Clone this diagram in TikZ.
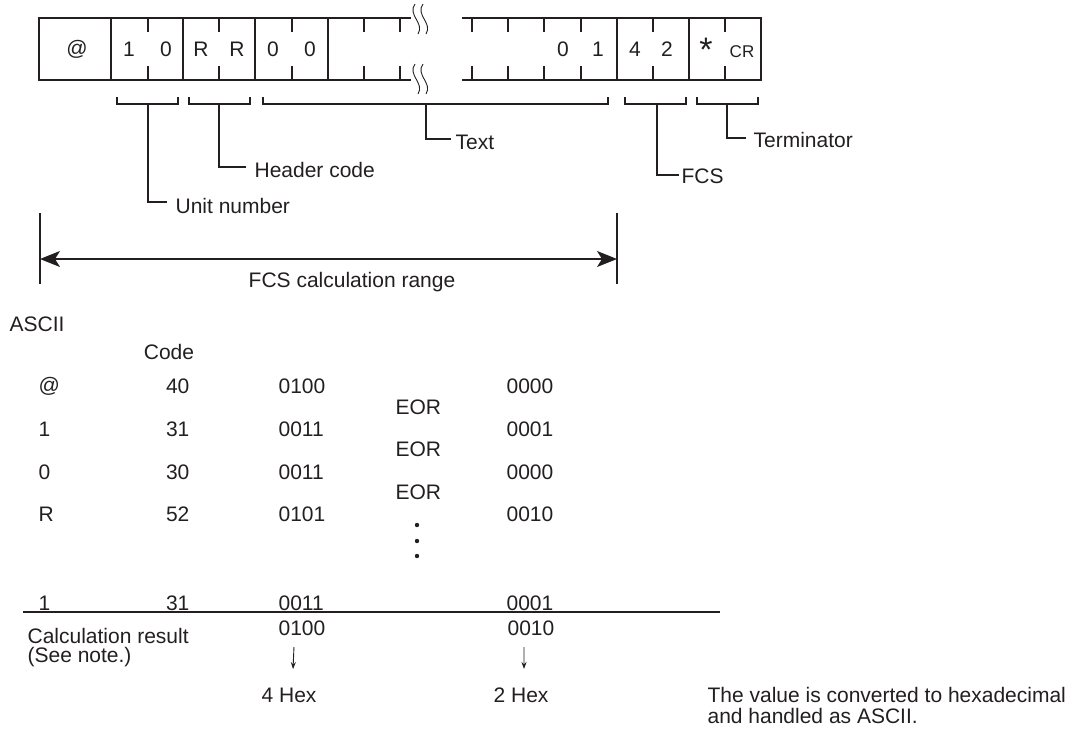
\documentclass[tikz,border=0pt]{standalone}
\usepackage{fontspec}
\setmainfont{Liberation Sans}
\usepackage{xcolor}
\usetikzlibrary{arrows.meta}
\definecolor{ink}{RGB}{35,31,32}

\begin{document}
\begin{tikzpicture}[x=1pt, y=-1pt, line width=1.2pt, draw=ink,
    txt/.style={font=\fontsize{21}{19}\selectfont, inner sep=0pt, text=ink},
    callout/.style={txt, anchor=west},
    hexarrow/.style={line width=0.9pt, -{Stealth[length=7pt,width=5pt]}}]
    \useasboundingbox (0,0) rectangle (1073,732);

    % Frame, left part
    \draw (411,18) -- (39,18) -- (39,80) -- (411,80);
    \foreach \x in {111,183,255,328} \draw (\x,18) -- (\x,80);
    \foreach \x in {148,219,292,364,400} {
        \draw (\x,18) -- (\x,32);
        \draw (\x,66) -- (\x,80);
    }
    % Frame, right part
    \draw (462,18) -- (761,18) -- (761,80) -- (462,80);
    \foreach \x in {617,689} \draw (\x,18) -- (\x,80);
    \foreach \x in {472,508,544,581,653,725} {
        \draw (\x,18) -- (\x,32);
        \draw (\x,66) -- (\x,80);
    }
    % Break marks
    \foreach \y in {4,64} {
        \draw[line width=0.9pt] (415,\y) .. controls (407,\y+11) and (425,\y+19) .. (418,\y+30);
        \draw[line width=0.9pt] (423,\y) .. controls (415,\y+11) and (433,\y+19) .. (426,\y+30);
    }

    % Characters of the frame
    \node[txt] (at) at (77,49) {@};
    \node[txt] (u1) at (129,49) {1};
    \node[txt] (u2) at (166,49) {0};
    \node[txt] (h1) at (201,49) {R};
    \node[txt] (h2) at (237,49) {R};
    \node[txt] (t1) at (273,49) {0};
    \node[txt] (t2) at (310,49) {0};
    \node[txt] (t3) at (563,49) {0};
    \node[txt] (t4) at (598,49) {1};
    \node[txt] (f1) at (635,49) {4};
    \node[txt] (f2) at (667,49) {2};
    \node[txt, font=\fontsize{34}{34}\selectfont, anchor=base] (ast) at (706,61) {*};
    \node[txt, font=\fontsize{17}{17}\selectfont] (cr) at (742,52) {CR};

    % Brackets
    \foreach \a/\b in {117/178, 189/250, 263/608, 625/686, 697/758}
        \draw (\a,97) |- (\b,104) -- (\b,97);

    % Callouts
    \node[callout] (unit) at (175,206) {Unit number};
    \node[callout] (header) at (254,170) {Header code};
    \node[callout] (text) at (455,142) {Text};
    \node[callout] (fcs) at (681,176) {FCS};
    \node[callout] (term) at (753,140) {Terminator};
    \draw (148,104) |- ([xshift=-8pt,yshift=4pt]unit.west);
    \draw (219,104) |- ([xshift=-8pt,yshift=3pt]header.west);
    \draw (426,104) |- ([xshift=-4pt,yshift=3pt]text.west);
    \draw (657,104) |- ([xshift=-2pt,yshift=1pt]fcs.west);
    \draw (727,104) |- ([xshift=-7pt,yshift=2pt]term.west);

    % FCS calculation range
    \coordinate (rangeL) at (40,259);
    \coordinate (rangeR) at (617,259);
    \draw (40,213) -- (40,284);
    \draw (617,213) -- (617,284);
    \draw[{Stealth[length=20pt,width=16pt,inset=5pt]}-{Stealth[length=20pt,width=16pt,inset=5pt]}] (rangeL) -- (rangeR);
    \node[txt] (range) at (352,282) {FCS calculation range};

    % Calculation table
    \node[callout] (ascii) at (9,324) {ASCII};
    \node[txt] (code) at (169,352) {Code};
    \foreach \ch/\hex/\bin/\acc/\y in {@/40/0100/0000/386, 1/31/0011/0001/429, 0/30/0011/0000/472, R/52/0101/0010/514, 1/31/0011/0001/603} {
        \node[callout] (ch\y) at (38,\y) {\ch};
        \node[txt, anchor=east] (hex\y) at (190,\y) {\hex};
        \node[callout] (bin\y) at (278,\y) {\bin};
        \node[callout] (acc\y) at (506,\y) {\acc};
    }
    \foreach \y in {407,449,492}
        \node[callout] (eor\y) at (395,\y) {EOR};
    \foreach \y in {525,541,556}
        \fill[ink] (417,\y) circle (2.2pt);
    \draw (23,612) -- (720,612);

    % Result
    \node[txt, anchor=north west, align=left] (result) at (27,628) {Calculation result\\(See note.)};
    \node[callout] (res1) at (278,628) {0100};
    \node[callout] (res2) at (507,628) {0010};
    \node[callout] (hex4) at (261,695) {4 Hex};
    \node[callout] (hex2) at (493,695) {2 Hex};
    \draw[hexarrow] ([xshift=-8pt,yshift=-11pt]res1.south) -- ([xshift=4pt,yshift=18pt]hex4.north);
    \draw[hexarrow] ([xshift=-7pt,yshift=-11pt]res2.south) -- ([xshift=3pt,yshift=18pt]hex2.north);
    \node[txt, anchor=north west, align=left, font=\fontsize{21}{21}\selectfont] (note) at (707,687)
        {The value is converted to hexadecimal\\and handled as ASCII.};
\end{tikzpicture}
\end{document}
